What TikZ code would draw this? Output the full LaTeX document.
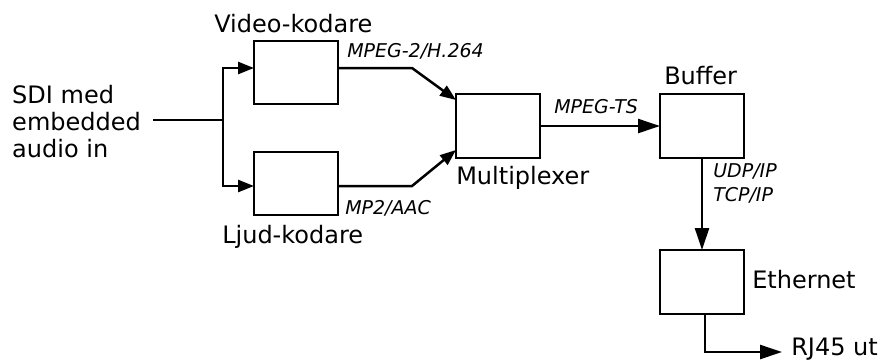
\documentclass[tikz,border=0pt]{standalone}
\usepackage{fontspec}
\setmainfont{DejaVu Sans}
\usetikzlibrary{arrows.meta}
\begin{document}
\begin{tikzpicture}[x=1pt,y=-1pt,
  line width=2.5pt,
  blk/.style={draw, line width=2.5pt, anchor=north west, inner sep=0pt, outer sep=0pt, minimum width=84pt, minimum height=63pt},
  lab/.style={anchor=base west, inner sep=0pt, font=\fontsize{24}{27}\selectfont},
  sig/.style={anchor=base west, inner sep=0pt, font=\fontsize{19}{24}\selectfont\itshape},
  big/.style={-{Triangle[length=22pt,width=14pt]}},
  small/.style={-{Triangle[length=16pt,width=12pt]}}]
\useasboundingbox (0,0) rectangle (883,360);
% blocks
\node[blk] (vid) at (254,41) {};
\node[blk] (ljud) at (254,152) {};
\node[blk, minimum height=64pt] (mux) at (456,94) {};
\node[blk, minimum height=64pt] (buf) at (660,94) {};
\node[blk, minimum height=64pt] (eth) at (660,250) {};
% labels
\node[lab] (vidl) at (213,32) {Video-kodare};
\node[lab] (ljudl) at (221,243) {Ljud-kodare};
\node[lab] (muxl) at (455,184) {Multiplexer};
\node[lab] (bufl) at (663,84) {Buffer};
\node[lab] (ethl) at (751,288) {Ethernet};
\node[lab] (rj) at (790,355) {RJ45 ut};
\node[lab, align=left] (sdi) at (11,157) {SDI med\\embedded\\audio in};
% signal labels
\node[sig] (mph) at (346,57) {MPEG-2/H.264};
\node[sig] (mpa) at (344,214) {MP2/AAC};
\node[sig] (mts) at (553,113) {MPEG-TS};
\node[sig, align=left] (ip) at (712,201) {UDP/IP\\TCP/IP};
% connectors
\coordinate (j) at (223,120);
\coordinate (vb) at (412,68);
\coordinate (lb) at (412,186);
\draw[shorten <=11pt] (sdi.east |- j) -- (j);
\draw[small] (j) |- ([yshift=4.5pt]vid.west);
\draw[small] (j) |- ([yshift=-2.5pt]ljud.west);
\draw[small] ([yshift=4.5pt]vid.east) -- (vb) -- ([yshift=-6pt]mux.north west);
\draw[small] ([yshift=-2.5pt]ljud.east) -- (lb) -- ([yshift=8pt]mux.south west);
\draw[big] (mux.east) -- (buf.west);
\draw[big] (buf.south) -- (eth.north);
\draw[big, shorten >=8pt] ([xshift=3pt]eth.south) |- ([yshift=3pt]rj.base west);
\end{tikzpicture}
\end{document}
